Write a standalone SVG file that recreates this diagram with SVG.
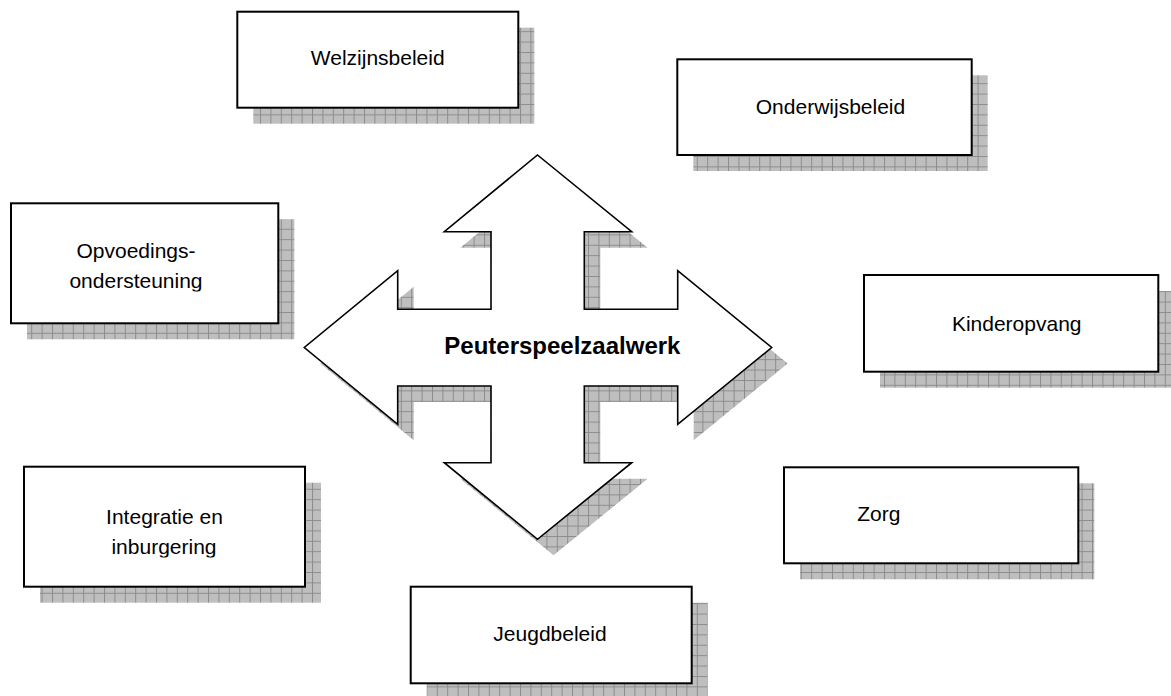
<svg xmlns="http://www.w3.org/2000/svg" width="1171" height="696" viewBox="0 0 1171 696">
<style>
.box{fill:#ffffff;stroke:#000000;stroke-width:2}
.shadow{fill:url(#grid)}
.lbl{font-family:"Liberation Sans",Arial,sans-serif;font-size:21px;fill:#000000}
.big{font-family:"Liberation Sans",Arial,sans-serif;font-size:24px;font-weight:bold;fill:#000000}
.arrow{fill:#ffffff;stroke:#000000;stroke-width:1.6;stroke-linejoin:miter}
</style>
<defs>
<pattern id="dots" width="2" height="2" patternUnits="userSpaceOnUse">
<rect width="2" height="2" fill="#c9c9c9"/>
<rect width="1" height="1" fill="#b4b4b4"/>
<rect x="1" y="1" width="1" height="1" fill="#b4b4b4"/>
</pattern>
<pattern id="grid" width="10.4" height="10.4" patternUnits="userSpaceOnUse">
<rect width="10.4" height="10.4" fill="url(#dots)"/>
<path d="M0 0.5H10.4M0.5 0V10.4" stroke="#8c8c8c" stroke-width="1" fill="none"/>
</pattern>
<polygon id="cross" points="537.5,155 631.7,231.7 584.3,231.7 584.3,309.3 677.7,309.3 677.7,270.7 771.7,347.5 677.7,424.3 677.7,386 584.3,386 584.3,462.7 631.7,462.7 537.5,539.3 444.3,462.7 491,462.7 491,386 397.7,386 397.7,424.3 304.3,347.5 397.7,270.7 397.7,309.3 491,309.3 491,231.7 444.3,231.7"/>
<clipPath id="clipOpv"><rect x="11" y="203" width="268" height="88.5"/></clipPath>
<clipPath id="clipInt"><rect x="24" y="467" width="281" height="90.5"/></clipPath>
</defs>
<rect width="1171" height="696" fill="#ffffff"/>

<g id="node-welzijnsbeleid">
<rect class="shadow" x="253.3" y="27.7" width="281" height="96"/>
<rect class="box" x="237.3" y="11.7" width="281" height="96"/>
<text class="lbl" x="377.7" y="65" text-anchor="middle">Welzijnsbeleid</text>
</g>

<g id="node-onderwijsbeleid">
<rect class="shadow" x="693.3" y="75.3" width="294.4" height="95.7"/>
<rect class="box" x="677.3" y="59.3" width="294.4" height="95.7"/>
<text class="lbl" x="830.5" y="114" text-anchor="middle">Onderwijsbeleid</text>
</g>

<g id="node-opvoedingsondersteuning">
<rect class="shadow" x="27" y="219.3" width="267.3" height="120"/>
<rect class="box" x="11" y="203.3" width="267.3" height="120"/>
<g clip-path="url(#clipOpv)">
<text class="lbl" x="136" y="258" text-anchor="middle">Opvoedings-</text>
<text class="lbl" x="136" y="288" text-anchor="middle">ondersteuning</text>
</g>
</g>

<g id="node-kinderopvang">
<rect class="shadow" x="880" y="291" width="294.3" height="96.7"/>
<rect class="box" x="864" y="275" width="294.3" height="96.7"/>
<text class="lbl" x="1016.7" y="330.7" text-anchor="middle">Kinderopvang</text>
</g>

<g id="node-integratie">
<rect class="shadow" x="40" y="482.7" width="281" height="120"/>
<rect class="box" x="24" y="466.7" width="281" height="120"/>
<g clip-path="url(#clipInt)">
<text class="lbl" x="164.5" y="524.3" text-anchor="middle">Integratie en</text>
<text class="lbl" x="164" y="554.3" text-anchor="middle">inburgering</text>
</g>
</g>

<g id="node-zorg">
<rect class="shadow" x="800" y="483.3" width="294.3" height="96"/>
<rect class="box" x="784" y="467.3" width="294.3" height="96"/>
<text class="lbl" x="857.3" y="521">Zorg</text>
</g>

<g id="node-jeugdbeleid">
<rect class="shadow" x="426.7" y="602.7" width="281" height="96.6"/>
<rect class="box" x="410.7" y="586.7" width="281" height="96.6"/>
<text class="lbl" x="550" y="640.7" text-anchor="middle">Jeugdbeleid</text>
</g>

<g id="node-peuterspeelzaalwerk">
<use href="#cross" class="shadow" transform="translate(16,16)"/>
<use href="#cross" class="arrow"/>
<text class="big" x="444.3" y="354">Peuterspeelzaalwerk</text>
</g>

<g id="connectors"></g>
</svg>
